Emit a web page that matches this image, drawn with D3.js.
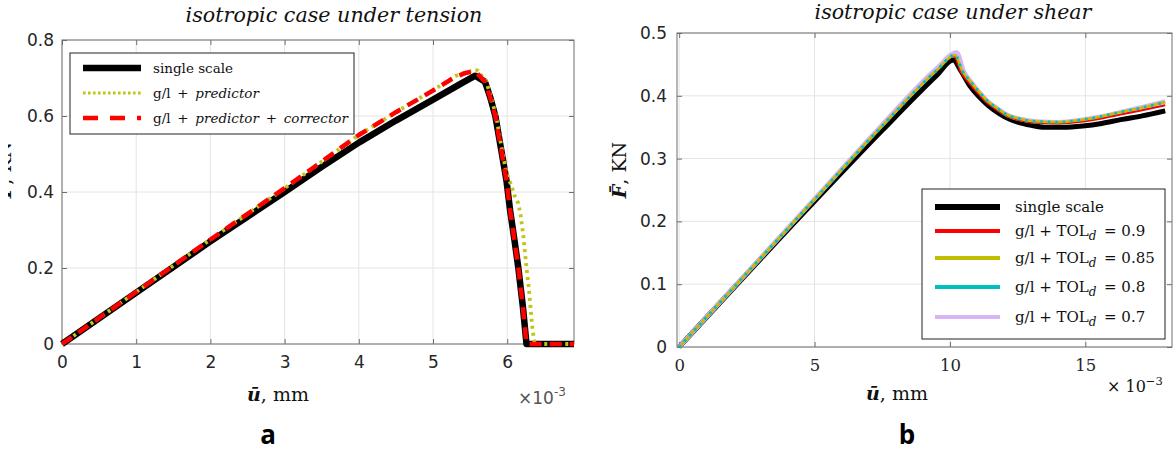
<!DOCTYPE html>
<html><head><meta charset="utf-8">
<script src="https://cdn.jsdelivr.net/npm/d3@7"></script>
<style>html,body{margin:0;padding:0;background:#fff;}svg{display:block;}</style>
</head><body>
<svg id="c" width="1175" height="452"></svg>
<script>
// ---------- DATA ----------
// (a) tension, u in 1e-3 mm, F in KN
const tenXTicks = [0,1,2,3,4,5,6];
const tenYTicks = [0,0.2,0.4,0.6,0.8];
const tenSingleU = [0,1,2,3,3.5,4,4.5,5,5.4,5.57,5.7,5.77,5.84,5.92,5.99,6.04,6.1,6.15,6.21,6.26,6.9];
const tenSingleF = [0,0.135,0.27,0.4,0.466,0.53,0.588,0.643,0.688,0.706,0.69,0.65,0.6,0.51,0.43,0.35,0.27,0.2,0.1,0,0];
const tenPredU = [0,1,2,3,3.5,4,4.5,5,5.3,5.45,5.6,5.72,5.78,5.85,5.93,5.99,6.05,6.1,6.15,6.18,6.22,6.26,6.29,6.34,6.37,6.9];
const tenPredF = [0,0.137,0.275,0.41,0.48,0.55,0.61,0.668,0.705,0.716,0.72,0.69,0.65,0.6,0.51,0.45,0.42,0.39,0.37,0.34,0.28,0.2,0.15,0.04,0,0];
const tenCorrU = [0,1,2,3,3.5,4,4.5,5,5.3,5.45,5.57,5.7,5.77,5.84,5.92,5.99,6.04,6.1,6.15,6.21,6.26,6.9];
const tenCorrF = [0,0.137,0.275,0.41,0.48,0.55,0.61,0.667,0.703,0.714,0.718,0.69,0.65,0.6,0.51,0.43,0.35,0.27,0.2,0.1,0,0];

// (b) shear
const shXTicks = [0,5,10,15];
const shYTicks = [0,0.1,0.2,0.3,0.4,0.5];
const shSingleU = [0,5,7.5,9.5,10.12,10.4,10.75,11.2,11.6,12,12.5,13,13.5,14.2,14.9,15.6,16.3,17.1,17.95];
const shSingleF = [0,0.232,0.345,0.432,0.457,0.44,0.415,0.393,0.378,0.367,0.358,0.353,0.35,0.35,0.352,0.356,0.362,0.368,0.376];
const sh09U = [0,5,7.5,9.5,10.15,10.4,10.75,11.1,11.4,11.75,12.1,12.6,13.2,14,14.9,15.6,16.3,17.1,17.95];
const sh09F = [0,0.235,0.352,0.44,0.463,0.438,0.418,0.401,0.388,0.377,0.368,0.361,0.357,0.356,0.359,0.364,0.37,0.377,0.385];
const sh085U = [0,5,7.5,9.5,10.19,10.45,10.75,11.1,11.4,11.75,12.1,12.6,13.2,14,14.9,15.6,16.3,17.1,17.95];
const sh085F = [0,0.235,0.352,0.44,0.465,0.44,0.423,0.405,0.391,0.38,0.37,0.363,0.359,0.358,0.362,0.367,0.374,0.381,0.39];
const sh08U = [0,5,7.5,9.5,10.19,10.45,10.75,11.1,11.4,11.75,12.1,12.6,13.2,14,14.9,15.6,16.3,17.1,17.95];
const sh08F = [0,0.235,0.352,0.44,0.465,0.44,0.423,0.405,0.391,0.38,0.37,0.363,0.359,0.358,0.362,0.367,0.374,0.381,0.39];
const sh07U = [0,5,7.5,9.5,10.25,10.5,10.8,11.1,11.4,11.75,12.1,12.6,13.2,14,14.9,15.6,16.3,17.1,17.95];
const sh07F = [0,0.236,0.354,0.443,0.469,0.44,0.421,0.405,0.391,0.38,0.37,0.363,0.359,0.358,0.362,0.367,0.374,0.382,0.391];

const tenLegend = [
  [{t:"single scale"}],
  [{t:"g/l\u2002+\u2002"},{t:"predictor",i:1}],
  [{t:"g/l\u2002+\u2002"},{t:"predictor",i:1},{t:"\u2002+\u2002"},{t:"corrector",i:1}]
];
const shLegend = [
  [{t:"single scale"}],
  [{t:"g/l + TOL"},{t:"d",i:1,sub:1},{t:"\u2002= 0.9"}],
  [{t:"g/l + TOL"},{t:"d",i:1,sub:1},{t:"\u2002= 0.85"}],
  [{t:"g/l + TOL"},{t:"d",i:1,sub:1},{t:"\u2002= 0.8"}],
  [{t:"g/l + TOL"},{t:"d",i:1,sub:1},{t:"\u2002= 0.7"}]
];

// ---------- DRAW ----------
const svg = d3.select("#c");
const SERIF = "'DejaVu Serif', serif";
const SANS = "'DejaVu Sans', sans-serif";
const GRID = "#e4e4e4", AX = "#6e6e6e", TXT = "#262626";

function rich(g, x, y, segs, size, anchor) {
  const t = g.append("text").attr("x", x).attr("y", y)
    .attr("font-family", SERIF).attr("font-size", size).attr("fill", "#111")
    .attr("text-anchor", anchor || "start").attr("xml:space", "preserve");
  segs.forEach(s => {
    const ts = t.append("tspan").text(s.t);
    if (s.i) ts.attr("font-style", "italic");
    if (s.b) ts.attr("font-weight", "bold");
    if (s.sub) { ts.attr("dy", size*0.25).attr("font-size", size*0.8); }
    else if (s.sup) { ts.attr("dy", -size*0.45).attr("font-size", size*0.7); }
  });
  const spans = t.selectAll("tspan").nodes();
  segs.forEach((s, k) => {
    if ((s.sub || s.sup) && spans[k+1]) {
      d3.select(spans[k+1]).attr("dy", s.sub ? -size*0.25 : size*0.45);
    }
  });
  return t;
}

function panel(o) {
  const g = svg.append("g");
  const x = d3.scaleLinear(o.xd, o.xr), y = d3.scaleLinear(o.yd, o.yr);
  g.append("g").selectAll("line").data(o.xt).join("line")
    .attr("x1", d => x(d)).attr("x2", d => x(d)).attr("y1", o.yr[0]).attr("y2", o.yr[1])
    .attr("stroke", GRID).attr("stroke-width", 1);
  g.append("g").selectAll("line").data(o.yt).join("line")
    .attr("y1", d => y(d)).attr("y2", d => y(d)).attr("x1", o.xr[0]).attr("x2", o.xr[1])
    .attr("stroke", GRID).attr("stroke-width", 1);
  const ab = g.append("g").attr("transform", `translate(0,${o.yr[0]})`)
    .call(d3.axisBottom(x).tickValues(o.xt).tickFormat(o.xf).tickSizeInner(-5).tickSizeOuter(0).tickPadding(o.xpad));
  const al = g.append("g").attr("transform", `translate(${o.xr[0]},0)`)
    .call(d3.axisLeft(y).tickValues(o.yt).tickFormat(d3.format("")).tickSizeInner(-5).tickSizeOuter(0).tickPadding(o.ypad));
  const at = g.append("g").attr("transform", `translate(0,${o.yr[1]})`)
    .call(d3.axisTop(x).tickValues(o.xt).tickFormat("").tickSizeInner(-5).tickSizeOuter(0));
  const ar = g.append("g").attr("transform", `translate(${o.xr[1]},0)`)
    .call(d3.axisRight(y).tickValues(o.yt).tickFormat("").tickSizeInner(-5).tickSizeOuter(0));
  [ab, al, at, ar].forEach(a => { a.select(".domain").remove(); a.selectAll("line").attr("stroke", AX); });
  ab.selectAll("text").attr("font-family", o.xfont).attr("font-size", o.xfs).attr("fill", TXT);
  al.selectAll("text").attr("font-family", SANS).attr("font-size", o.yfs).attr("fill", TXT);
  g.append("rect").attr("x", o.xr[0]).attr("y", o.yr[1]).attr("width", o.xr[1]-o.xr[0]).attr("height", o.yr[0]-o.yr[1])
    .attr("fill", "none").attr("stroke", AX).attr("stroke-width", 1);
  const clipId = "clip" + o.id;
  svg.append("clipPath").attr("id", clipId).append("rect")
    .attr("x", o.xr[0]-4).attr("y", o.yr[1]-4).attr("width", o.xr[1]-o.xr[0]+4).attr("height", o.yr[0]-o.yr[1]+8);
  const sg = g.append("g").attr("clip-path", `url(#${clipId})`);
  const line = d3.line().x(d => x(d[0])).y(d => y(d[1])).curve(o.curve || d3.curveLinear);
  o.series.forEach(s => {
    sg.append("path").datum(d3.zip(s.u, s.f)).attr("d", line)
      .attr("fill", "none").attr("stroke", s.c).attr("stroke-width", s.w)
      .attr("stroke-dasharray", s.dash || null).attr("stroke-linejoin", "round")
      .attr("stroke-linecap", s.cap || "butt");
  });
  return {g, x, y};
}

const A = panel({
  id: "a", xd: [0, 6.9], xr: [62, 574], yd: [0, 0.8], yr: [344, 40],
  xt: tenXTicks, yt: tenYTicks, xf: d3.format(""), xfont: SANS, xfs: 17, yfs: 17, xpad: 12, ypad: 8,
  series: [
    {u: tenSingleU, f: tenSingleF, c: "#000", w: 6.5},
    {u: tenPredU, f: tenPredF, c: "#c4c418", w: 3.8, dash: "3,4"},
    {u: tenCorrU, f: tenCorrF, c: "#ff0000", w: 4.5, dash: "12,8"}
  ]
});

const B = panel({
  id: "b", xd: [-0.08, 18.2], xr: [677, 1172], yd: [0, 0.5], yr: [347, 33],
  xt: shXTicks, yt: shYTicks, xf: d3.format(""), xfont: SERIF, xfs: 16.5, yfs: 17, xpad: 12, ypad: 10,
  curve: d3.curveMonotoneX,
  series: [
    {u: shSingleU, f: shSingleF, c: "#000", w: 5},
    {u: sh07U, f: sh07F, c: "#d6b4f6", w: 4.5},
    {u: sh09U, f: sh09F, c: "#ff0000", w: 2},
    {u: sh085U, f: sh085F, c: "#bfbf00", w: 2.5},
    {u: sh08U, f: sh08F, c: "#00bfbf", w: 3, dash: "2.5,5"}
  ]
});

function legend(g, box, rows, ys, sx, tx, fs, styles) {
  g.append("rect").attr("x", box[0]).attr("y", box[1]).attr("width", box[2]-box[0]).attr("height", box[3]-box[1])
    .attr("fill", "#fff").attr("stroke", "#222").attr("stroke-width", 1);
  rows.forEach((r, k) => {
    const st = styles[k];
    g.append("line").attr("x1", sx[0]).attr("x2", sx[1]).attr("y1", ys[k]).attr("y2", ys[k])
      .attr("stroke", st.c).attr("stroke-width", st.w).attr("stroke-dasharray", st.dash || null);
    rich(g, tx, ys[k] + fs*0.36, r, fs);
  });
}
legend(A.g, [70, 53, 354, 134], tenLegend, [68, 93, 118], [83, 141], 153, 13.5, [
  {c: "#000", w: 6.5}, {c: "#c4c418", w: 3, dash: "2.6,2.4"}, {c: "#ff0000", w: 4.5, dash: "15,12"}
]);
legend(B.g, [922, 189, 1165, 339], shLegend, [207, 231, 258, 287, 317], [935, 1000], 1015, 15, [
  {c: "#000", w: 6}, {c: "#ff0000", w: 4}, {c: "#bfbf00", w: 4}, {c: "#00bfbf", w: 4}, {c: "#d6b4f6", w: 4}
]);

function fitTitle(x, y, str, width) {
  const t = svg.append("text").attr("x", x).attr("y", y).attr("text-anchor", "middle")
    .attr("font-family", SERIF).attr("font-style", "italic").attr("font-size", 20).attr("fill", "#111").text(str);
  const w = t.node().getComputedTextLength();
  t.attr("font-size", 20 * width / w);
}
fitTitle(334, 22, "isotropic case under tension", 297);
fitTitle(953, 19, "isotropic case under shear", 277);

function xlabel(x, y) {
  rich(svg, x, y, [{t:"ū", b:1, i:1}, {t:", mm"}], 19, "middle");
}
xlabel(278, 401);
xlabel(897, 400);
function ylabel(parent, x, y) {
  const g = parent.append("g").attr("transform", `translate(${x},${y}) rotate(-90)`);
  rich(g, 0, 0, [{t:"F\u0304", b:1, i:1}, {t:", KN"}], 19, "middle");
}
// left panel's label is cropped by the figure edge in the original, as in the reference
svg.append("clipPath").attr("id", "ylabClip").append("rect").attr("x", 8).attr("y", 0).attr("width", 40).attr("height", 452);
ylabel(svg.append("g").attr("clip-path", "url(#ylabClip)"), 11, 170);
ylabel(svg, 626, 170);

const e1 = svg.append("text").attr("x", 518).attr("y", 404).attr("font-family", SANS).attr("font-size", 17).attr("fill", "#555");
e1.append("tspan").text("×10");
e1.append("tspan").text("-3").attr("font-size", 12).attr("dy", -8);
const e2 = svg.append("text").attr("x", 1107).attr("y", 392).attr("font-family", SERIF).attr("font-size", 16).attr("fill", "#111");
e2.append("tspan").text("× 10");
e2.append("tspan").text("−3").attr("font-size", 11.5).attr("dy", -7);

svg.append("text").attr("x", 268).attr("y", 444).attr("text-anchor", "middle")
  .attr("font-family", "'Open Sans', sans-serif").attr("font-weight", "bold").attr("font-size", 26).attr("fill", "#000").text("a");
svg.append("text").attr("x", 907).attr("y", 444).attr("text-anchor", "middle")
  .attr("font-family", "'Open Sans', sans-serif").attr("font-weight", "bold").attr("font-size", 26).attr("fill", "#000").text("b");
</script>
</body></html>
